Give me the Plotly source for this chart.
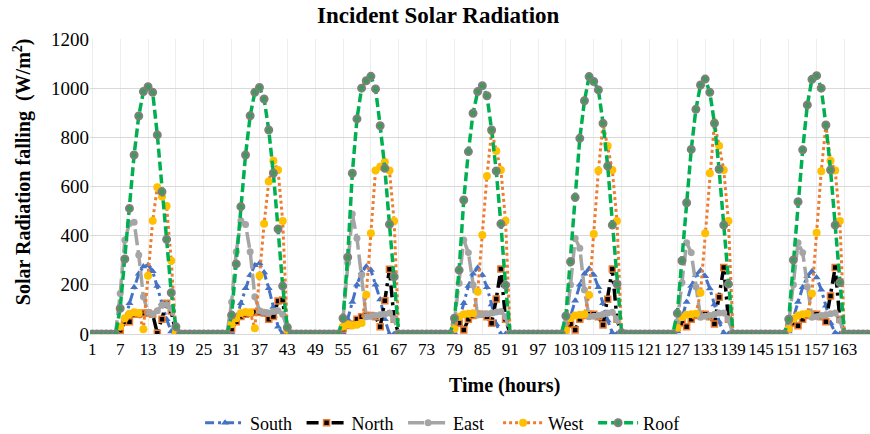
import plotly.graph_objects as go

# ---------------- data (W/m2), hours 1..168, one row per day ----------------
hours = list(range(1, 169))
tick_vals = [1, 7, 13, 19, 25, 31, 37, 43, 49, 55, 61, 67, 73, 79, 85, 91, 97,
             103, 109, 115, 121, 127, 133, 139, 145, 151, 157, 163]
tick_text = ["1", "7", "13", "19", "25", "31", "37", "43", "49", "55", "61", "67",
             "73", "79", "85", "91", "97", "103", "109", "115", "121", "127",
             "133", "139", "145", "151", "157", "163"]

south = [
    0, 0, 0, 0, 0, 0, 10, 50, 125, 190, 245, 275, 280, 255, 195, 125, 60, 10, 0, 0, 0, 0, 0, 0,
    0, 0, 0, 0, 0, 0, 5, 60, 125, 186, 240, 280, 288, 250, 186, 110, 30, 0, 0, 0, 0, 0, 0, 0,
    0, 0, 0, 0, 0, 0, 5, 60, 130, 200, 250, 275, 260, 200, 140, 60, 0, 0, 0, 0, 0, 0, 0, 0,
    0, 0, 0, 0, 0, 0, 5, 55, 125, 195, 245, 270, 240, 190, 120, 40, 0, 0, 0, 0, 0, 0, 0, 0,
    0, 0, 0, 0, 0, 0, 10, 70, 135, 200, 245, 265, 240, 190, 125, 55, 5, 0, 0, 0, 0, 0, 0, 0,
    0, 0, 0, 0, 0, 0, 10, 65, 130, 195, 240, 258, 235, 185, 120, 50, 5, 0, 0, 0, 0, 0, 0, 0,
    0, 0, 0, 0, 0, 0, 10, 65, 130, 190, 235, 255, 230, 180, 115, 45, 5, 0, 0, 0, 0, 0, 0, 0,
]

north = [
    0, 0, 0, 0, 0, 0, 15, 50, 50, 80, 80, 85, 85, 80, 3, 60, 125, 94, 0, 0, 0, 0, 0, 0,
    0, 0, 0, 0, 0, 0, 20, 50, 71, 80, 85, 88, 88, 85, 60, 71, 134, 138, 0, 0, 0, 0, 0, 0,
    0, 0, 0, 0, 0, 0, 20, 35, 40, 60, 70, 75, 75, 70, 30, 135, 263, 60, 0, 0, 0, 0, 0, 0,
    0, 0, 0, 0, 0, 0, 30, 45, 16, 60, 75, 80, 80, 70, 44, 142, 264, 60, 0, 0, 0, 0, 0, 0,
    0, 0, 0, 0, 0, 0, 25, 40, 16, 60, 75, 80, 80, 70, 37, 141, 264, 60, 0, 0, 0, 0, 0, 0,
    0, 0, 0, 0, 0, 0, 25, 45, 30, 60, 75, 80, 80, 70, 41, 149, 271, 60, 0, 0, 0, 0, 0, 0,
    0, 0, 0, 0, 0, 0, 25, 45, 34, 60, 75, 80, 80, 70, 50, 155, 271, 60, 0, 0, 0, 0, 0, 0,
]

east = [
    0, 0, 0, 0, 0, 0, 165, 382, 450, 455, 321, 152, 88, 80, 95, 118, 120, 104, 30, 0, 0, 0, 0, 0,
    0, 0, 0, 0, 0, 0, 130, 335, 461, 445, 335, 152, 95, 88, 85, 92, 95, 80, 20, 0, 0, 0, 0, 0,
    0, 0, 0, 0, 0, 0, 60, 290, 488, 390, 240, 70, 72, 75, 78, 80, 85, 60, 0, 0, 0, 0, 0, 0,
    0, 0, 0, 0, 0, 0, 50, 206, 382, 331, 199, 77, 80, 82, 85, 90, 92, 70, 0, 0, 0, 0, 0, 0,
    0, 0, 0, 0, 0, 0, 45, 200, 389, 349, 179, 70, 72, 75, 80, 85, 88, 60, 0, 0, 0, 0, 0, 0,
    0, 0, 0, 0, 0, 0, 50, 210, 371, 331, 192, 68, 72, 75, 80, 85, 85, 60, 0, 0, 0, 0, 0, 0,
    0, 0, 0, 0, 0, 0, 45, 200, 371, 331, 192, 68, 70, 75, 78, 82, 85, 55, 0, 0, 0, 0, 0, 0,
]

west = [
    0, 0, 0, 0, 0, 0, 30, 64, 82, 88, 85, 19, 237, 461, 597, 559, 521, 298, 5, 0, 0, 0, 0, 0,
    0, 0, 0, 0, 0, 0, 40, 64, 85, 90, 88, 23, 237, 448, 620, 705, 667, 460, 16, 0, 0, 0, 0, 0,
    0, 0, 0, 0, 0, 0, 30, 40, 35, 38, 45, 160, 410, 665, 680, 700, 665, 460, 0, 0, 0, 0, 0, 0,
    0, 0, 0, 0, 0, 0, 20, 70, 80, 82, 84, 172, 403, 643, 826, 744, 667, 461, 0, 0, 0, 0, 0, 0,
    0, 0, 0, 0, 0, 0, 15, 65, 75, 78, 80, 159, 407, 664, 855, 765, 667, 460, 0, 0, 0, 0, 0, 0,
    0, 0, 0, 0, 0, 0, 25, 68, 78, 80, 82, 168, 410, 654, 860, 766, 667, 460, 0, 0, 0, 0, 0, 0,
    0, 0, 0, 0, 0, 0, 20, 62, 75, 80, 82, 165, 412, 662, 850, 705, 665, 460, 0, 0, 0, 0, 0, 0,
]

roof = [
    0, 0, 0, 0, 0, 0, 104, 305, 511, 728, 887, 986, 1006, 983, 810, 579, 385, 168, 30, 0, 0, 0, 0, 0,
    0, 0, 0, 0, 0, 0, 77, 285, 518, 728, 888, 983, 1003, 956, 830, 654, 427, 195, 27, 0, 0, 0, 0, 0,
    0, 0, 0, 0, 0, 0, 64, 312, 654, 875, 1000, 1030, 1048, 997, 847, 674, 446, 233, 0, 0, 0, 0, 0, 0,
    0, 0, 0, 0, 0, 0, 64, 260, 545, 742, 898, 986, 1010, 969, 830, 663, 448, 199, 0, 0, 0, 0, 0, 0,
    0, 0, 0, 0, 0, 0, 73, 294, 556, 796, 949, 1047, 1027, 993, 857, 683, 443, 203, 5, 0, 0, 0, 0, 0,
    0, 0, 0, 0, 0, 0, 84, 298, 534, 751, 914, 1013, 1037, 983, 857, 670, 443, 203, 0, 0, 0, 0, 0, 0,
    0, 0, 0, 0, 0, 0, 60, 301, 538, 749, 932, 1036, 1051, 1000, 850, 667, 443, 209, 0, 0, 0, 0, 0, 0,
]

FONT = "Liberation Serif, Times New Roman, serif"
NB = "\u00a0"

fig = go.Figure()
fig.add_trace(go.Scatter(
    x=hours, y=south, name="South" + NB, mode="lines+markers",
    line=dict(color="#4472C4", width=3, dash="9px,4px,3px,4px"),
    marker=dict(symbol="triangle-up", size=7, color="#4472C4")))
fig.add_trace(go.Scatter(
    x=hours, y=north, name="North" + NB, mode="lines+markers",
    line=dict(color="#000000", width=3.5, dash="12px,5px,3px,5px"),
    marker=dict(symbol="square", size=6, color="#000000",
                line=dict(color="#ED7D31", width=1.5))))
fig.add_trace(go.Scatter(
    x=hours, y=east, name="East" + NB + NB, mode="lines+markers",
    line=dict(color="#A5A5A5", width=3.5, dash="16px,5px"),
    marker=dict(symbol="circle", size=7, color="#A5A5A5")))
fig.add_trace(go.Scatter(
    x=hours, y=west, name="West" + NB, mode="lines+markers",
    line=dict(color="#ED7D31", width=3, dash="dot"),
    marker=dict(symbol="circle", size=8, color="#FFC000")))
fig.add_trace(go.Scatter(
    x=hours, y=roof, name="Roof", mode="lines+markers",
    line=dict(color="#00B050", width=3.5, dash="9px,4px"),
    marker=dict(symbol="circle", size=7, color="#3E9A55",
                line=dict(color="#7F7F7F", width=2))))

fig.update_layout(
    width=870, height=434,
    margin=dict(l=90, r=0, t=39, b=100, autoexpand=False),
    paper_bgcolor="white", plot_bgcolor="white",
    font=dict(family=FONT, size=16, color="#000000"),
    showlegend=True,
    legend=dict(orientation="h", x=0.452, xanchor="center", y=-0.302, yanchor="middle",
                font=dict(family=FONT, size=18, color="#000000"),
                bgcolor="rgba(0,0,0,0)", tracegroupgap=0, itemwidth=40),
    annotations=[
        dict(text="<b>Incident Solar Radiation</b>", xref="paper", yref="paper",
             x=0.447, y=1.081, xanchor="center", yanchor="middle", showarrow=False,
             font=dict(family=FONT, size=23, color="#000000")),
        dict(text="<b>Time (hours)</b>", xref="paper", yref="paper",
             x=0.531, y=-0.173, xanchor="center", yanchor="middle", showarrow=False,
             font=dict(family=FONT, size=20, color="#000000")),
        dict(text="<b>Solar Radiation falling  (W/m<sup>2</sup>)</b>", xref="paper", yref="paper",
             x=-0.087, y=0.549, xanchor="center", yanchor="middle", showarrow=False,
             textangle=-90, font=dict(family=FONT, size=20, color="#000000")),
    ],
)
fig.update_xaxes(range=[0.5, 168.5], tickvals=tick_vals, ticktext=tick_text,
                 showgrid=True, gridcolor="#EDEDED", gridwidth=1, zeroline=False,
                 showline=True, linecolor="#D9D9D9", ticks="",
                 tickfont=dict(family=FONT, size=17, color="#000000"))
fig.update_yaxes(range=[0, 1200], dtick=200, showgrid=True, gridcolor="#D9D9D9",
                 gridwidth=1, zeroline=False, showline=False, ticks="",
                 tickfont=dict(family=FONT, size=19, color="#000000"))

fig.write_html("out.html", config={"displayModeBar": False},
               post_script="document.body.style.margin='0';document.body.style.overflow='hidden';")
